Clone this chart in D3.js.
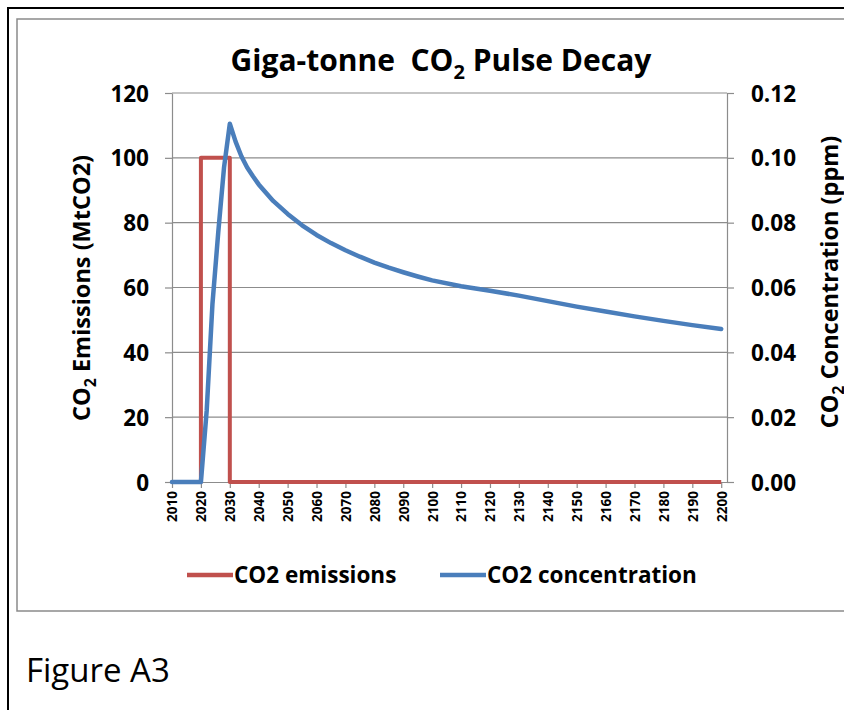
<!DOCTYPE html>
<html>
<head>
<meta charset="utf-8">
<script src="https://cdn.jsdelivr.net/npm/d3@7"></script>
<style>
  body { margin: 0; background: #fff; }
  svg { display: block; }
  text { font-family: 'Open Sans', 'Noto Sans', sans-serif; fill: #000; }
</style>
</head>
<body>
<svg width="844" height="710"></svg>
<script>
// emissions pulse (MtCO2)
const emissionYears = [2010, 2020, 2020, 2030, 2030, 2200];
const emissionValues = [0, 0, 100, 100, 0, 0];

// resulting concentration (ppm)
const concYears = [2010, 2020, 2022, 2024, 2026, 2028, 2030, 2032, 2034, 2036, 2038, 2040,
  2045, 2050, 2055, 2060, 2065, 2070, 2075, 2080, 2085, 2090, 2095, 2100,
  2110, 2120, 2130, 2140, 2150, 2160, 2170, 2180, 2190, 2200];
const concValues = [0, 0, 0.022, 0.055, 0.077, 0.097, 0.1105, 0.105, 0.1005, 0.097, 0.0943, 0.0918,
  0.0867, 0.0827, 0.0792, 0.0762, 0.0737, 0.0715, 0.0695, 0.0677, 0.0661, 0.0647, 0.0634, 0.0622,
  0.0604, 0.059, 0.0575, 0.0558, 0.0541, 0.0526, 0.0511, 0.0497, 0.0484, 0.0472];

const xTickYears = [2010, 2020, 2030, 2040, 2050, 2060, 2070, 2080, 2090, 2100,
  2110, 2120, 2130, 2140, 2150, 2160, 2170, 2180, 2190, 2200];
const leftTicks = [0, 20, 40, 60, 80, 100, 120];
const rightTicks = [0, 0.02, 0.04, 0.06, 0.08, 0.10, 0.12];

const red = '#C0504D';
const blue = '#4A7EBB';
const gridColor = '#8c8c8c';

const svg = d3.select('svg');

const x = d3.scaleLinear().domain([2010, 2202]).range([172, 727]);
const yL = d3.scaleLinear().domain([0, 120]).range([482, 93]);
const yR = d3.scaleLinear().domain([0, 0.12]).range([482, 93]);

// page frame and chart frame
svg.append('path')
    .attr('d', 'M8,710 V8 H844')
    .attr('fill', 'none')
    .attr('stroke', '#000')
    .attr('stroke-width', 2);

svg.append('path')
    .attr('d', 'M844,19 H17 V611 H844')
    .attr('fill', 'none')
    .attr('stroke', '#8a8a8a')
    .attr('stroke-width', 1.5);

// title
const title = svg.append('text')
    .attr('x', 441)
    .attr('y', 71)
    .attr('text-anchor', 'middle')
    .attr('font-size', 30)
    .attr('font-weight', 'bold');
title.append('tspan').text('Giga-tonne\u00a0 CO');
title.append('tspan').attr('dy', 8).attr('font-size', 20).text('2');
title.append('tspan').attr('dy', -8).text(' Pulse Decay');

// gridlines
svg.append('g')
    .selectAll('line')
    .data(leftTicks.filter(d => d > 0))
    .join('line')
    .attr('x1', x.range()[0])
    .attr('x2', x.range()[1])
    .attr('y1', d => yL(d))
    .attr('y2', d => yL(d))
    .attr('stroke', gridColor)
    .attr('stroke-width', 1.2);

// axes
const styleAxis = g => {
  g.select('.domain').attr('stroke', gridColor).attr('stroke-width', 1.2);
  g.selectAll('.tick line').attr('stroke', gridColor).attr('stroke-width', 1.2);
  g.selectAll('text')
      .attr('font-family', "'Open Sans', 'Noto Sans', sans-serif")
      .attr('font-weight', 'bold')
      .attr('fill', '#000');
};

svg.append('g')
    .attr('transform', `translate(${x.range()[0]},0)`)
    .call(d3.axisLeft(yL).tickValues(leftTicks).tickSize(7).tickPadding(16).tickSizeOuter(0))
    .call(styleAxis)
    .selectAll('text').attr('font-size', 22.5).attr('dy', '0.36em');

svg.append('g')
    .attr('transform', `translate(${x.range()[1]},0)`)
    .call(d3.axisRight(yR).tickValues(rightTicks).tickFormat(d3.format('.2f')).tickSize(7).tickPadding(17).tickSizeOuter(0))
    .call(styleAxis)
    .selectAll('text').attr('font-size', 22.5).attr('dy', '0.36em');

const xAxis = svg.append('g')
    .attr('transform', `translate(0,${yL(0)})`)
    .call(d3.axisBottom(x).tickValues(xTickYears).tickFormat(d3.format('d')).tickSize(6).tickSizeOuter(0))
    .call(styleAxis);

xAxis.selectAll('text')
    .attr('font-size', 13.5)
    .attr('text-anchor', 'end')
    .attr('transform', 'rotate(-90)')
    .attr('x', -9)
    .attr('y', 0)
    .attr('dy', '0.36em');

// axis titles
const leftTitle = svg.append('text')
    .attr('transform', 'translate(90,288) rotate(-90)')
    .attr('text-anchor', 'middle')
    .attr('font-size', 23.5)
    .attr('font-weight', 'bold');
leftTitle.append('tspan').text('CO');
leftTitle.append('tspan').attr('dy', 6).attr('font-size', 16).text('2');
leftTitle.append('tspan').attr('dy', -6).text(' Emissions (MtCO2)');

// the reference crops this title at the right edge
const rightTitle = svg.append('text')
    .attr('transform', 'translate(838,282) rotate(-90)')
    .attr('text-anchor', 'middle')
    .attr('font-size', 23.5)
    .attr('font-weight', 'bold');
rightTitle.append('tspan').text('CO');
rightTitle.append('tspan').attr('dy', 6).attr('font-size', 16).text('2');
rightTitle.append('tspan').attr('dy', -6).text(' Concentration (ppm)');

// series
const emissionLine = d3.line()
    .x((d, i) => x(emissionYears[i]))
    .y(d => yL(d));

const concLine = d3.line()
    .x((d, i) => x(concYears[i]))
    .y(d => yR(d));

svg.append('path')
    .attr('d', emissionLine(emissionValues))
    .attr('fill', 'none')
    .attr('stroke', red)
    .attr('stroke-width', 4)
    .attr('stroke-linejoin', 'round');

svg.append('path')
    .attr('d', concLine(concValues))
    .attr('fill', 'none')
    .attr('stroke', blue)
    .attr('stroke-width', 4.5)
    .attr('stroke-linejoin', 'round')
    .attr('stroke-linecap', 'round');

// legend
const legendItems = [
  { name: 'CO2 emissions', color: red, x: 187 },
  { name: 'CO2 concentration', color: blue, x: 440 }
];

const legend = svg.append('g')
    .selectAll('g')
    .data(legendItems)
    .join('g')
    .attr('transform', d => `translate(${d.x},575)`);

legend.append('line')
    .attr('x1', 0)
    .attr('x2', 46)
    .attr('stroke', d => d.color)
    .attr('stroke-width', 4.5);

legend.append('text')
    .attr('x', 47)
    .attr('dy', '0.36em')
    .attr('font-size', 22.5)
    .attr('font-weight', 'bold')
    .text(d => d.name);

// caption
svg.append('text')
    .attr('x', 26)
    .attr('y', 682)
    .attr('font-size', 33)
    .text('Figure A3');
</script>
</body>
</html>
